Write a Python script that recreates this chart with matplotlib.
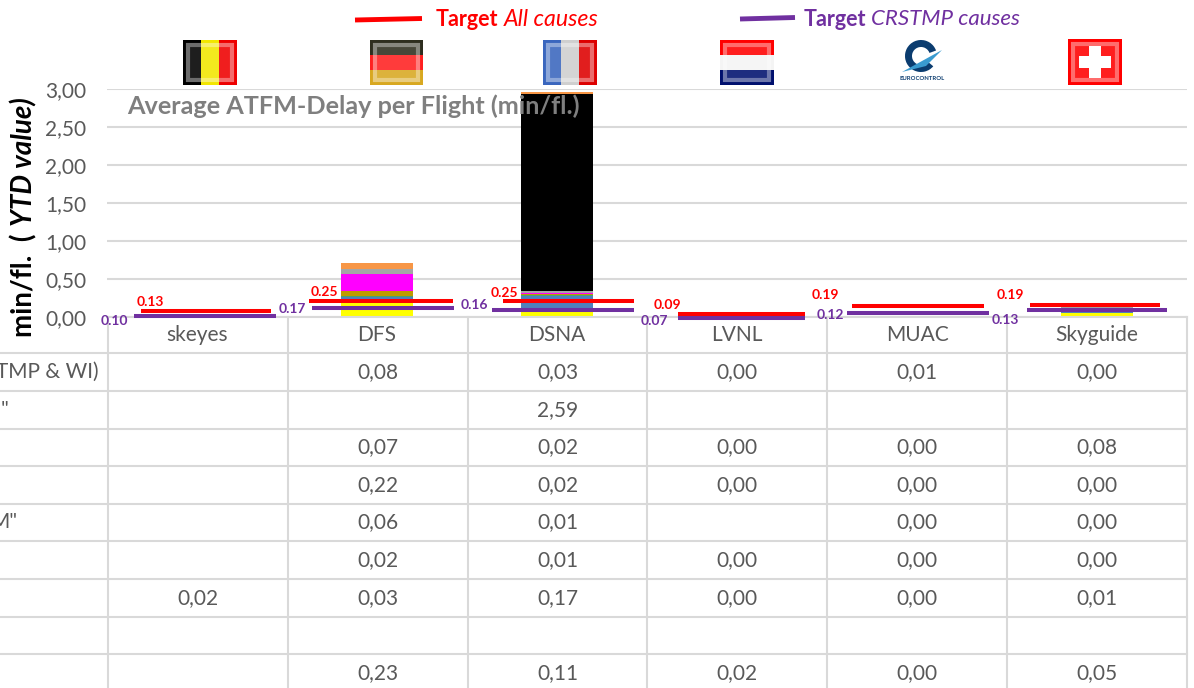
import matplotlib
matplotlib.use('Agg')
import matplotlib.pyplot as plt
import numpy as np
from matplotlib.patches import Rectangle, Wedge, Polygon

plt.rcParams['font.family'] = ['Lato', 'DejaVu Sans']

# Dados
categorias = ['skeyes', 'DFS', 'DSNA', 'LVNL', 'MUAC', 'Skyguide']
ticks_y = [0, 0.5, 1, 1.5, 2, 2.5, 3]

linha1 = [None, 0.08, 0.03, 0.00, 0.01, 0.00]
linha2 = [None, None, 2.59, None, None, None]
linha3 = [None, 0.07, 0.02, 0.00, 0.00, 0.08]
linha4 = [None, 0.22, 0.02, 0.00, 0.00, 0.00]
linha5 = [None, 0.06, 0.01, None, 0.00, 0.00]
linha6 = [None, 0.02, 0.01, 0.00, 0.00, 0.00]
linha7 = [0.02, 0.03, 0.17, 0.00, 0.00, 0.01]
linha8 = [None, None, None, None, None, None]
linha9 = [None, 0.23, 0.11, 0.02, 0.00, 0.05]
linhas = [linha1, linha2, linha3, linha4, linha5, linha6, linha7, linha8, linha9]
rotulos_linhas = ['TMP & WI)', '"', '', '', 'M"', '', '', '', '']
cores_linhas = ['#F79646', '#000000', '#A5A5A5', '#FF00FF', '#C09A00',
                '#4BA36B', '#4F81BD', '#7F7F7F', '#FFFF00']

alvo_total = [0.13, 0.25, 0.25, 0.09, 0.19, 0.19]
alvo_crstmp = [0.10, 0.17, 0.16, 0.07, 0.12, 0.13]

VERMELHO = '#FF0000'
ROXO = '#7030A0'
CINZA = '#595959'
GRADE = '#D9D9D9'

fig = plt.figure(figsize=(11.94, 6.88), dpi=100)
ax = fig.add_axes([107 / 1194, (688 - 317) / 688, 1080 / 1194, 228 / 688])
over = fig.add_axes([0, 0, 1, 1], zorder=5)
over.patch.set_alpha(0)
over.axis('off')

# Barras empilhadas (da última linha da tabela para a primeira)
x = np.arange(len(categorias))
base = np.zeros(len(categorias))
for linha, cor in reversed(list(zip(linhas, cores_linhas))):
    valores = np.array([0 if v is None else v for v in linha])
    ax.bar(x, valores, 0.4, bottom=base, color=cor, zorder=2)
    base += valores

ax.set_xlim(-0.5, 5.5)
ax.set_ylim(0, 3)
ax.set_yticks(ticks_y)
ax.set_yticklabels([f'{t:.2f}'.replace('.', ',') for t in ticks_y], fontsize=15, color=CINZA)
ax.set_xticks(x)
ax.set_xticklabels(categorias, fontsize=15, color=CINZA)
ax.tick_params(axis='y', length=0, pad=15)
ax.tick_params(axis='x', length=0, pad=6)
ax.grid(axis='y', color=GRADE, lw=1.5, zorder=0)
for lado in ['top', 'left', 'right']:
    ax.spines[lado].set_visible(False)
ax.spines['bottom'].set_color(GRADE)
ax.spines['bottom'].set_linewidth(1.5)

# Linhas de meta: no original estão coladas à mão, um pouco abaixo do valor escrito
inicio_total = [-0.31, -0.38, -0.30, -0.33, -0.36, -0.37]
fim_total = [0.41, 0.42, 0.43, 0.38, 0.37, 0.35]
inicio_crstmp = [-0.35, -0.36, -0.36, -0.33, -0.39, -0.39]
fim_crstmp = [0.44, 0.43, 0.43, 0.38, 0.40, 0.39]
desvio_total = [0.05, 0.04, 0.04, 0.05, 0.045, 0.03]
desvio_crstmp = [0.093, 0.058, 0.068, 0.077, 0.067, 0.038]
for i in x:
    ax.plot([i + inicio_total[i], i + fim_total[i]], [alvo_total[i] - desvio_total[i]] * 2,
            color=VERMELHO, lw=2.9, solid_capstyle='butt', zorder=4, clip_on=False)
    ax.plot([i + inicio_crstmp[i], i + fim_crstmp[i]], [alvo_crstmp[i] - desvio_crstmp[i]] * 2,
            color=ROXO, lw=2.9, solid_capstyle='butt', zorder=4, clip_on=False)

pos_total = [(150, 302), (324, 292), (504, 293), (667, 305), (825, 295), (1010, 295)]
pos_crstmp = [(114, 321), (292, 309), (474, 305), (654, 321), (830, 315), (1005, 320)]
for v, (px, py) in zip(alvo_total, pos_total):
    over.text(px, py, f'{v:.2f}', color=VERMELHO, fontsize=10, fontweight='bold', ha='center', va='center')
for v, (px, py) in zip(alvo_crstmp, pos_crstmp):
    over.text(px, py, f'{v:.2f}', color=ROXO, fontsize=10, fontweight='bold', ha='center', va='center')

# Tabela
topo_tabela = 353.3
altura_linha = 37.6
colunas_x = [108 + 179.83 * i for i in range(7)]
for c in colunas_x:
    over.plot([c, c], [317, 688], color=GRADE, lw=1.5)
for r in range(len(linhas)):
    yy = topo_tabela + r * altura_linha
    over.plot([0, colunas_x[-1]], [yy, yy], color=GRADE, lw=1.5)
    yc = yy + altura_linha / 2
    for c, v in enumerate(linhas[r]):
        if v is not None:
            over.text(colunas_x[c] + 89.9, yc, f'{v:.2f}'.replace('.', ','),
                      fontsize=15, color=CINZA, ha='center', va='center')

fim_rotulos = [99, 9, 0, 0, 17, 0, 0, 0, 0]
for r, rotulo in enumerate(rotulos_linhas):
    if rotulo:
        over.text(fim_rotulos[r], topo_tabela + (r + 0.5) * altura_linha, rotulo,
                  fontsize=15, color=CINZA, ha='right', va='center')

# Títulos e legenda
over.text(127, 106, 'Average ATFM-Delay per Flight (min/fl.)', fontsize=18.2, fontweight='bold',
          color='#7F7F7F', va='center')
over.text(24, 337, 'min/fl.  (', rotation=90, fontsize=20, fontweight='bold', ha='center', va='bottom')
over.text(24, 226, 'YTD value)', rotation=90, fontsize=20, fontweight='bold', style='italic',
          ha='center', va='bottom')

over.plot([355, 422], [20, 18.5], color=VERMELHO, lw=3.5, solid_capstyle='butt')
over.plot([740, 795], [19, 17.5], color=ROXO, lw=3.5, solid_capstyle='butt')
over.text(436, 19, 'Target', color=VERMELHO, fontsize=15.5, fontweight='bold', va='center')
over.text(504, 19, 'All causes', color=VERMELHO, fontsize=16.7, style='italic', va='center')
over.text(804, 19, 'Target', color=ROXO, fontsize=15.5, fontweight='bold', va='center')
over.text(871, 19, 'CRSTMP causes', color=ROXO, fontsize=16, style='italic', va='center')


# Bandeiras
def bandeira(x0, y0, w, h, cores, vertical=True):
    n = len(cores)
    for k, cor in enumerate(cores):
        if vertical:
            over.add_patch(Rectangle((x0 + k * w / n, y0), w / n, h, color=cor, lw=0))
        else:
            over.add_patch(Rectangle((x0, y0 + k * h / n), w, h / n, color=cor, lw=0))
    # moldura clara por cima, como no ícone original
    over.add_patch(Rectangle((x0 + 3, y0 + 3), w - 6, h - 6, facecolor='white', alpha=0.12, lw=0))
    over.add_patch(Rectangle((x0 + 5, y0 + 5), w - 10, h - 10, fill=False, edgecolor='white', alpha=0.35, lw=3))


bandeira(183, 40, 54, 45, ['#000000', '#F2E600', '#EE0000'])
bandeira(370, 40, 53, 45, ['#2E2E1E', '#FF2020', '#D8A820'], vertical=False)
bandeira(543, 40, 54, 45, ['#3A66BE', '#CFCFCF', '#DD0000'])
bandeira(720, 40, 54, 45, ['#FF0000', '#F4F4F4', '#00106E'], vertical=False)
bandeira(1068, 39, 54, 46, ['#FF0000'])
over.add_patch(Rectangle((1079, 56), 32, 12, color='white', lw=0))
over.add_patch(Rectangle((1089, 46), 12, 32, color='white', lw=0))

# Logótipo
over.add_patch(Wedge((921, 56), 16, 40, 340, width=7, color='#0B3C6F', lw=0))
over.add_patch(Polygon([(902, 72), (942, 50), (926, 66)], color='#3A9BD0', lw=0))
over.text(922, 79, 'EUROCONTROL', fontsize=4.3, fontweight='bold', color='#0B3C6F', ha='center', va='center')

over.set_xlim(0, 1194)
over.set_ylim(688, 0)

fig.savefig('out.png', dpi=100)
